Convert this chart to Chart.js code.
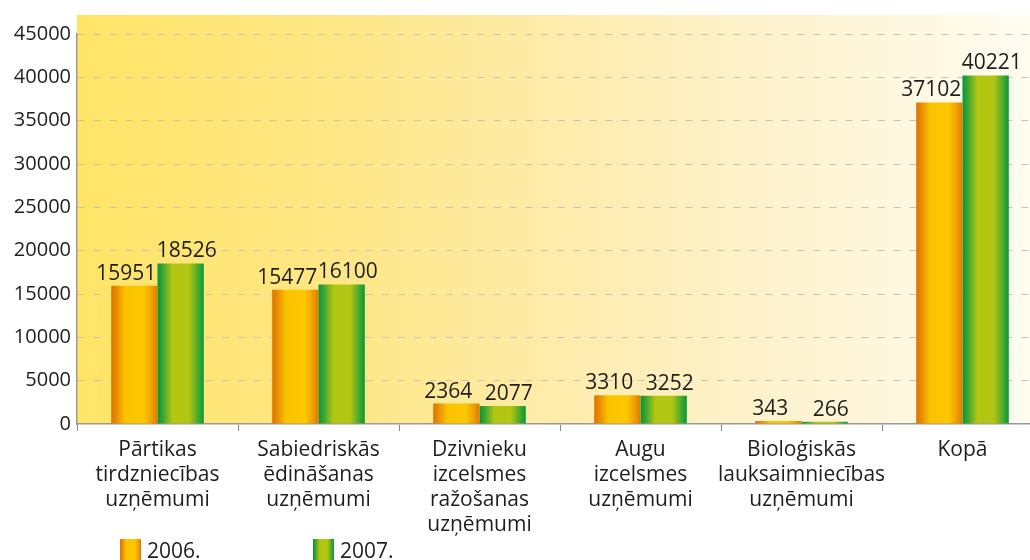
<!DOCTYPE html>
<html>
<head>
<meta charset="utf-8">
<script src="https://cdn.jsdelivr.net/npm/chart.js@4"></script>
<style>
  html, body { margin: 0; padding: 0; background: #fff; overflow: hidden; }
  /* audekls nedaudz platāks par logu, labā mala nogriezta */
  #wrap { width: 1043px; height: 560px; position: relative; }
</style>
</head>
<body>
<div id="wrap"><canvas id="uznemumi"></canvas></div>
<script>
// Uzņēmumu skaits pa darbības veidiem
var kategorijas = [
    ["Pārtikas", "tirdzniecības", "uzņēmumi"],
    ["Sabiedriskās", "ēdināšanas", "uzņēmumi"],
    ["Dzivnieku", "izcelsmes", "ražošanas", "uzņēmumi"],
    ["Augu", "izcelsmes", "uzņēmumi"],
    ["Bioloģiskās", "lauksaimniecības", "uzņēmumi"],
    ["Kopā"]
];
var gadi = ["2006.", "2007."];
var dati2006 = [15951, 15477, 2364, 3310, 343, 37102];
var dati2007 = [18526, 16100, 2077, 3252, 266, 40221];
var asuMax = 45000;
var asuSolis = 5000;

var fonts = "'Open Sans', 'Noto Sans', sans-serif";
var tekstaKrasa = "#1e1e1e";

// svītrainās stabiņu krāsas (no malas uz vidu un atpakaļ)
var oranzs = [[0, "#dc7400"], [0.12, "#e98e00"], [0.3, "#fbc200"], [0.7, "#fcc800"], [0.88, "#ee9e00"], [1, "#dd7800"]];
var zals = [[0, "#00983c"], [0.12, "#3fa530"], [0.32, "#b2c614"], [0.68, "#b4c614"], [0.88, "#4aa82c"], [1, "#009a3a"]];

function svitrots(ctx, x0, x1, pieturas) {
    var g = ctx.createLinearGradient(x0, 0, x1, 0);
    pieturas.forEach(function (p) { g.addColorStop(p[0], p[1]); });
    return g;
}

// fons aiz zīmējuma laukuma
var fonaSpraudnis = {
    id: 'fons',
    beforeDraw: function (chart) {
        var a = chart.chartArea, ctx = chart.ctx;
        var g = ctx.createLinearGradient(a.left, 0, a.right, 0);
        g.addColorStop(0, "#ffe466");
        g.addColorStop(0.3, "#fee78a");
        g.addColorStop(0.65, "#fdf0c4");
        g.addColorStop(1, "#fffcf2");
        ctx.save();
        ctx.fillStyle = g;
        ctx.fillRect(a.left, a.top - 19, a.right - a.left, a.bottom - a.top + 19);
        ctx.restore();
    }
};

// katram stabiņam savs gradients pēc tā platuma
var stabinuSpraudnis = {
    id: 'stabini',
    beforeDatasetsDraw: function (chart) {
        chart.data.datasets.forEach(function (ds, i) {
            chart.getDatasetMeta(i).data.forEach(function (bar) {
                var x0 = bar.x - bar.width / 2, x1 = bar.x + bar.width / 2;
                bar.options.backgroundColor = svitrots(chart.ctx, x0, x1, i === 0 ? oranzs : zals);
            });
        });
    },
    afterDatasetsDraw: function (chart) {
        var ctx = chart.ctx;
        ctx.save();
        ctx.font = "21px " + fonts;
        ctx.fillStyle = tekstaKrasa;
        ctx.textAlign = "center";
        ctx.textBaseline = "alphabetic";
        chart.data.datasets.forEach(function (ds, i) {
            chart.getDatasetMeta(i).data.forEach(function (bar, j) {
                var nobide = i === 0 ? -8 : 6;
                ctx.fillText(String(ds.data[j]), bar.x + nobide, bar.y - 6);
            });
        });
        ctx.restore();
    },
    afterDraw: function (chart) {
        // leģenda apakšā
        var ctx = chart.ctx;
        var vietas = [120, 313];
        ctx.save();
        ctx.font = "21px " + fonts;
        ctx.textBaseline = "alphabetic";
        gadi.forEach(function (g, i) {
            var x = vietas[i];
            ctx.fillStyle = svitrots(ctx, x, x + 21, i === 0 ? oranzs : zals);
            ctx.fillRect(x, 539, 21, 21);
            ctx.fillStyle = tekstaKrasa;
            ctx.fillText(g, x + 27, 558);
        });
        ctx.restore();
    }
};

new Chart(document.getElementById('uznemumi'), {
    type: 'bar',
    data: {
        labels: kategorijas,
        datasets: [
            // funkcija, lai katram stabiņam būtu savs opciju objekts
            { label: gadi[0], data: dati2006, backgroundColor: function () { return "#fcc800"; }, borderWidth: 0 },
            { label: gadi[1], data: dati2007, backgroundColor: function () { return "#b4c614"; }, borderWidth: 0 }
        ]
    },
    options: {
        responsive: true,
        maintainAspectRatio: false,
        animation: false,
        events: [],
        categoryPercentage: 0.575,
        barPercentage: 1,
        layout: { padding: { top: 34, right: 0, bottom: 0, left: 0 } },
        plugins: {
            legend: { display: false },
            tooltip: { enabled: false }
        },
        scales: {
            x: {
                afterFit: function (s) { s.height = 136; },
                grid: {
                    display: true,
                    offset: true,
                    drawOnChartArea: false,
                    drawTicks: true,
                    tickLength: 7,
                    color: "#8c8c8c"
                },
                border: { display: true, color: "#9a9a9a", width: 1.5 },
                ticks: {
                    color: tekstaKrasa,
                    font: { family: fonts, size: 21, lineHeight: 1.2 },
                    padding: 6,
                    maxRotation: 0,
                    autoSkip: false
                }
            },
            y: {
                min: 0,
                max: asuMax,
                afterFit: function (s) { s.width = 77; },
                ticks: {
                    stepSize: asuSolis,
                    color: tekstaKrasa,
                    font: { family: fonts, size: 20 },
                    padding: 6,
                    callback: function (v) { return String(v); }
                },
                grid: {
                    drawTicks: false,
                    lineWidth: 1,
                    color: function (c) { return c.tick && c.tick.value === 0 ? "rgba(0,0,0,0)" : "#c9c4b0"; }
                },
                border: { display: true, color: "#9a9a9a", width: 1.5, dash: [7, 9] }
            }
        }
    },
    plugins: [fonaSpraudnis, stabinuSpraudnis]
});
</script>
</body>
</html>
